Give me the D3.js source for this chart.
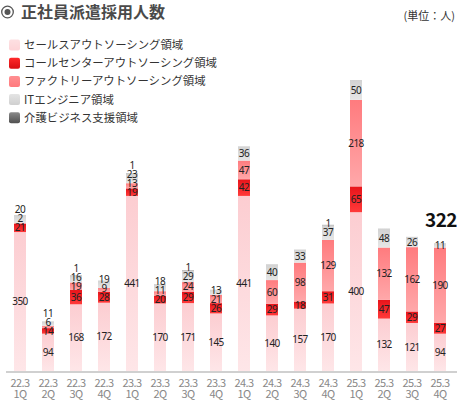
<!DOCTYPE html>
<html>
<head>
  <meta charset="utf-8">
  <script src="https://d3js.org/d3.v7.min.js"></script>
  <style>
    body { margin: 0; background: #fff; }
    svg { display: block; font-family: "Noto Sans CJK JP", "Noto Sans", sans-serif; }
  </style>
</head>
<body>
<svg id="chart"></svg>
<script>
  var w = 457, h = 400;
  var baseline = 371;

  // data (people hired per quarter, by business area)
  var years = ["22.3","22.3","22.3","22.3","23.3","23.3","23.3","23.3",
               "24.3","24.3","24.3","24.3","25.3","25.3","25.3","25.3"];
  var quarters = ["1Q","2Q","3Q","4Q","1Q","2Q","3Q","4Q",
                  "1Q","2Q","3Q","4Q","1Q","2Q","3Q","4Q"];
  var sales   = [350, 94, 168, 172, 441, 170, 171, 145, 441, 140, 157, 170, 400, 132, 121, 94];
  var call    = [21, 14, 36, 28, 19, 20, 29, 26, 42, 29, 18, 31, 65, 47, 29, 27];
  var factory = [2, 6, 19, 9, 13, 11, 24, 21, 47, 60, 98, 129, 218, 132, 162, 190];
  var it      = [20, 11, 16, 19, 23, 18, 29, 13, 36, 40, 33, 37, 50, 48, 26, 11];
  var care    = [0, 0, 1, 0, 1, 0, 1, 0, 0, 0, 0, 1, 0, 0, 0, 0];
  var seriesNames = ["セールスアウトソーシング領域", "コールセンターアウトソーシング領域",
                     "ファクトリーアウトソーシング領域", "ITエンジニア領域", "介護ビジネス支援領域"];
  var highlightTotal = 322;

  var series = [sales, call, factory, it, care];
  // gradient colours per series: [top, bottom]
  var colors = [["#fccdd1", "#fee6e8"], ["#e8141a", "#ff3a3a"], ["#ff7b7e", "#ffa8aa"],
                ["#d2d2d2", "#e6e6e6"], ["#555555", "#8a8a8a"]];
  var legendColors = [["#fde0e2", "#fdd4d7"], ["#ff2a2a", "#d80e12"], ["#ff8f92", "#ff7a7d"],
                      ["#e4e4e4", "#cfcfcf"], ["#8a8a8a", "#505050"]];

  var svg = d3.select("#chart").attr("width", w).attr("height", h);
  var defs = svg.append("defs");
  function addGradient(id, c) {
    var g = defs.append("linearGradient").attr("id", id)
      .attr("x1", 0).attr("y1", 0).attr("x2", 0).attr("y2", 1);
    g.append("stop").attr("offset", "0%").attr("stop-color", c[0]);
    g.append("stop").attr("offset", "100%").attr("stop-color", c[1]);
  }
  colors.forEach(function(c, i) { addGradient("g" + i, c); });
  legendColors.forEach(function(c, i) { addGradient("lg" + i, c); });

  // title
  svg.append("circle").attr("cx", 7.5).attr("cy", 12).attr("r", 5.8)
    .attr("fill", "none").attr("stroke", "#555").attr("stroke-width", 1.3);
  svg.append("circle").attr("cx", 7.5).attr("cy", 12).attr("r", 3).attr("fill", "#555");
  svg.append("text").attr("x", 21).attr("y", 18).text("正社員派遣採用人数")
    .attr("font-size", "16px").attr("font-weight", "700").attr("fill", "#4a4a4a");
  svg.append("text").attr("x", 455).attr("y", 20).attr("text-anchor", "end")
    .text("(単位：人)").attr("font-size", "11px").attr("fill", "#333");

  // legend
  var legend = svg.append("g");
  seriesNames.forEach(function(name, i) {
    var ly = 45 + i * 18.2;
    legend.append("rect").attr("x", 9).attr("y", ly - 5.5).attr("width", 11).attr("height", 11)
      .attr("rx", 2).attr("fill", "url(#lg" + i + ")");
    legend.append("text").attr("x", 24).attr("y", ly + 4).text(name)
      .attr("font-size", "11.4px").attr("fill", "#333");
  });

  // scales
  var idx = d3.range(years.length);
  var totals = idx.map(function(i) { return d3.sum(series, function(s) { return s[i]; }); });
  var x = d3.scalePoint().domain(idx).range([20, 440]);
  var y = d3.scaleLinear().domain([0, d3.max(totals)]).range([baseline, 80]);
  var barW = 12;

  var stackData = idx.map(function(i) {
    var o = { i: i };
    series.forEach(function(s, k) { o["s" + k] = s[i]; });
    return o;
  });
  var stacked = d3.stack().keys(["s0", "s1", "s2", "s3", "s4"])(stackData);

  // baseline
  svg.append("line").attr("x1", 6).attr("x2", w).attr("y1", baseline + 1).attr("y2", baseline + 1)
    .attr("stroke", "#d0d0d0").attr("stroke-width", 2);

  // bars
  stacked.forEach(function(layer, k) {
    svg.append("g").selectAll("rect")
      .data(layer.filter(function(d) { return d[1] > d[0]; }))
      .enter().append("rect")
      .attr("x", function(d) { return x(d.data.i) - barW / 2; })
      .attr("y", function(d) { return y(d[1]); })
      .attr("width", barW)
      .attr("height", function(d) { return y(d[0]) - y(d[1]); })
      .attr("fill", "url(#g" + k + ")");
  });

  // value labels, pushed up when they collide
  var labels = svg.append("g").attr("font-family", "'Noto Sans', sans-serif")
    .attr("font-size", "10px").attr("fill", "#222")
    .attr("text-anchor", "middle").attr("letter-spacing", "-0.5px");
  idx.forEach(function(i) {
    var prev = Infinity;
    stacked.forEach(function(layer) {
      var d = layer[i];
      var v = d[1] - d[0];
      if (v <= 0) return;
      var cy = Math.min(y((d[0] + d[1]) / 2), prev - 9);
      prev = cy;
      labels.append("text").attr("x", x(i)).attr("y", cy + 3.6).text(v);
    });
  });

  // highlighted total for the latest quarter
  svg.append("text").attr("x", x(idx.length - 1) + 1).attr("y", 227).attr("text-anchor", "middle")
    .text(highlightTotal).attr("font-size", "19px").attr("font-weight", "700")
    .attr("letter-spacing", "-0.5px").attr("fill", "#111");

  // x axis labels
  var xl = svg.append("g").attr("font-size", "11px").attr("fill", "#888")
    .attr("text-anchor", "middle").attr("letter-spacing", "-0.6px");
  idx.forEach(function(i) {
    xl.append("text").attr("x", x(i)).attr("y", 387).text(years[i]);
    xl.append("text").attr("x", x(i)).attr("y", 398).text(quarters[i]);
  });
</script>
</body>
</html>
